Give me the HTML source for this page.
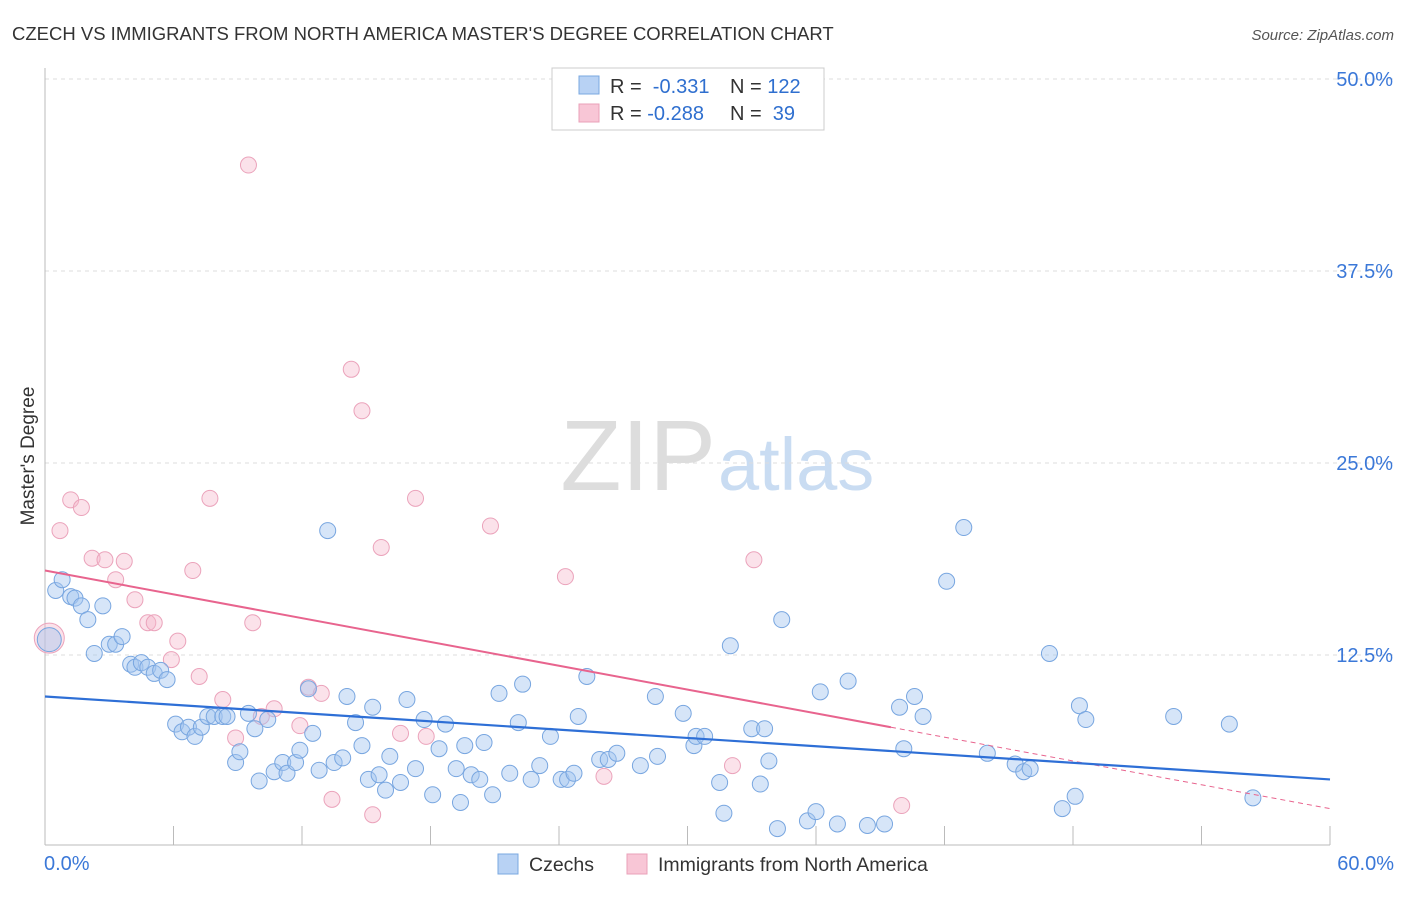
<!DOCTYPE html>
<html><head><meta charset="utf-8"><style>
body{margin:0;background:#fff;font-family:"Liberation Sans",sans-serif;}
svg text{font-family:"Liberation Sans",sans-serif;}
</style></head><body>
<svg id="chart" width="1406" height="892">
<text x="12" y="40" font-size="18.5" fill="#333">CZECH VS IMMIGRANTS FROM NORTH AMERICA MASTER'S DEGREE CORRELATION CHART</text>
<text x="1394" y="40" font-size="15" fill="#555" text-anchor="end" font-style="italic">Source: ZipAtlas.com</text>
<text x="716" y="490" font-size="100" fill="#ddd" text-anchor="end" font-family="Liberation Serif">ZIP</text>
<text x="718" y="490" font-size="74" fill="#c9dcf2">atlas</text>
<text transform="translate(34,456) rotate(-90)" font-size="19" fill="#333" text-anchor="middle">Master's Degree</text>
<g id="grid"></g><g id="marks"></g>
<g>
<rect x="552" y="68" width="272" height="62" fill="#fff" stroke="#ccc"/>
<rect x="579" y="76" width="20" height="18" fill="#b8d2f4" stroke="#7aa8e0"/>
<rect x="579" y="104" width="20" height="18" fill="#f8c6d6" stroke="#eaa0b8"/>
<text x="610" y="93" font-size="20" fill="#333">R = <tspan fill="#2f6fcf">&#160;-0.331</tspan></text>
<text x="730" y="93" font-size="20" fill="#333">N = <tspan fill="#2f6fcf">122</tspan></text>
<text x="610" y="120" font-size="20" fill="#333">R = <tspan fill="#2f6fcf">-0.288</tspan></text>
<text x="730" y="120" font-size="20" fill="#333">N = <tspan fill="#2f6fcf">&#160;39</tspan></text>
</g>
<g>
<rect x="498" y="854" width="20" height="20" fill="#b8d2f4" stroke="#7aa8e0"/>
<text x="529" y="871" font-size="19.5" fill="#333">Czechs</text>
<rect x="627" y="854" width="20" height="20" fill="#f8c6d6" stroke="#eaa0b8"/>
<text x="658" y="871" font-size="19.5" fill="#333">Immigrants from North America</text>
</g>
</svg>
<script>
const yTicks=[12.5,25,37.5,50];
const yTickLabels=["12.5%","25.0%","37.5%","50.0%"];
const xTickLabels=["0.0%","60.0%"];
const blueX=[0.2,0.5,0.8,1.2,1.4,1.7,2.0,2.3,2.7,3.0,3.3,3.6,4.0,4.2,4.5,4.8,5.1,5.4,5.7,6.1,6.4,6.7,7.0,7.3,7.6,7.9,8.3,8.5,8.9,9.1,9.5,9.8,10.0,10.4,10.7,11.1,11.3,11.7,11.9,12.3,12.5,12.8,13.2,13.5,13.9,14.1,14.5,14.8,15.1,15.3,15.6,15.9,16.1,16.6,16.9,17.3,17.7,18.1,18.4,18.7,19.2,19.4,19.6,19.9,20.3,20.5,20.9,21.2,21.7,22.1,22.3,22.7,23.1,23.6,24.1,24.4,24.7,24.9,25.3,25.9,26.3,26.7,27.8,28.5,28.6,29.8,30.3,30.4,30.8,31.5,31.7,32.0,33.0,33.4,33.6,33.8,34.2,34.4,35.6,36.0,36.2,37.0,37.5,38.4,39.2,39.9,40.1,40.6,41.0,42.1,42.9,44.0,45.3,45.7,46.0,46.9,47.5,48.1,48.3,48.6,52.7,55.3,56.4];
const blueY=[13.5,16.7,17.4,16.3,16.2,15.7,14.8,12.6,15.7,13.2,13.2,13.7,11.9,11.7,12.0,11.7,11.3,11.5,10.9,8.0,7.5,7.8,7.2,7.8,8.5,8.5,8.5,8.5,5.5,6.2,8.7,7.7,4.3,8.3,4.9,5.5,4.8,5.5,6.3,10.3,7.4,5.0,20.6,5.5,5.8,9.8,8.1,6.6,4.4,9.1,4.7,3.7,5.9,4.2,9.6,5.1,8.3,3.4,6.4,8.0,5.1,2.9,6.6,4.7,4.4,6.8,3.4,10.0,4.8,8.1,10.6,4.4,5.3,7.2,4.4,4.4,4.8,8.5,11.1,5.7,5.7,6.1,5.3,9.8,5.9,8.7,6.6,7.2,7.2,4.2,2.2,13.1,7.7,4.1,7.7,5.6,1.2,14.8,1.7,2.3,10.1,1.5,10.8,1.4,1.5,9.1,6.4,9.8,8.5,17.3,20.8,6.1,5.4,4.9,5.1,12.6,2.5,3.3,9.2,8.3,8.5,8.0,3.2];
const pinkX=[0.2,0.7,1.2,1.7,2.2,2.8,3.3,3.7,4.2,4.8,5.1,5.9,6.2,6.9,7.2,7.7,8.3,8.9,9.5,9.7,10.1,10.7,11.9,12.3,12.9,13.4,14.3,14.8,15.3,15.7,16.6,17.3,17.8,20.8,24.3,26.1,32.1,33.1,40.0];
const pinkY=[13.6,20.6,22.6,22.1,18.8,18.7,17.4,18.6,16.1,14.6,14.6,12.2,13.4,18.0,11.1,22.7,9.6,7.1,44.4,14.6,8.5,9.0,7.9,10.4,10.0,3.1,31.1,28.4,2.1,19.5,7.4,22.7,7.2,20.9,17.6,4.6,5.3,18.7,2.7];
const blueLine=[9.8,4.4];
const pinkLine=[18.0,2.5];
const pinkSolidEnd=39.5;
const NS="http://www.w3.org/2000/svg";
const X=v=>45+v/60*1285, Y=v=>847-v/12.5*192;
const grid=document.getElementById('grid'), marks=document.getElementById('marks');
function mk(tag,attrs,parent){const e=document.createElementNS(NS,tag);for(const k in attrs)e.setAttribute(k,attrs[k]);parent.appendChild(e);return e;}
yTicks.forEach((t,i)=>{
 const l=mk('line',{x1:45,x2:1394,y1:Y(t),y2:Y(t),stroke:'#ddd','stroke-dasharray':'4,4'},grid);
 
 
 const tx=mk('text',{x:1393,y:Y(t)+7,'font-size':20,fill:'#3b78d8','text-anchor':'end'},grid);tx.textContent=yTickLabels[i];
 
 
});
const ax=mk('line',{x1:45,x2:1330,y1:845,y2:845,stroke:'#bbb'},grid);


const ay=mk('line',{x1:45,x2:45,y1:68,y2:845,stroke:'#bbb'},grid);


for(let i=0;i<=10;i++){const t=mk('line',{x1:X(i*6),x2:X(i*6),y1:826,y2:845,stroke:'#bbb'},grid);
 
 }
[[0,'start',44],[60,'end',1394]].forEach((d,i)=>{const t=mk('text',{x:d[2],y:870,'font-size':20,fill:'#3b78d8','text-anchor':d[1]},grid);t.textContent=xTickLabels[i];
 
 });
pinkX.forEach((x,i)=>{const c=mk('circle',{cx:X(x),cy:Y(pinkY[i]),r:i==0?15:8,fill:'rgba(246,182,202,0.4)',stroke:'#eba3bb','stroke-width':1},marks);
 
 });
blueX.forEach((x,i)=>{const c=mk('circle',{cx:X(x),cy:Y(blueY[i]),r:i==0?12:8,fill:'rgba(165,198,240,0.45)',stroke:'#78a6e0','stroke-width':1},marks);
 
 });
const pAt=x=>pinkLine[0]+(pinkLine[1]-pinkLine[0])*x/60;
const p1=mk('line',{x1:X(0),y1:Y(pinkLine[0]),x2:X(pinkSolidEnd),y2:Y(pAt(pinkSolidEnd)),stroke:'#e8648e','stroke-width':2},marks);


const p2=mk('line',{x1:X(pinkSolidEnd),y1:Y(pAt(pinkSolidEnd)),x2:X(60),y2:Y(pinkLine[1]),stroke:'#e8648e','stroke-width':1,'stroke-dasharray':'5,4'},marks);


const b=mk('line',{x1:X(0),y1:Y(blueLine[0]),x2:X(60),y2:Y(blueLine[1]),stroke:'#2e6fd6','stroke-width':2.2},marks);


</script>
</body></html>
